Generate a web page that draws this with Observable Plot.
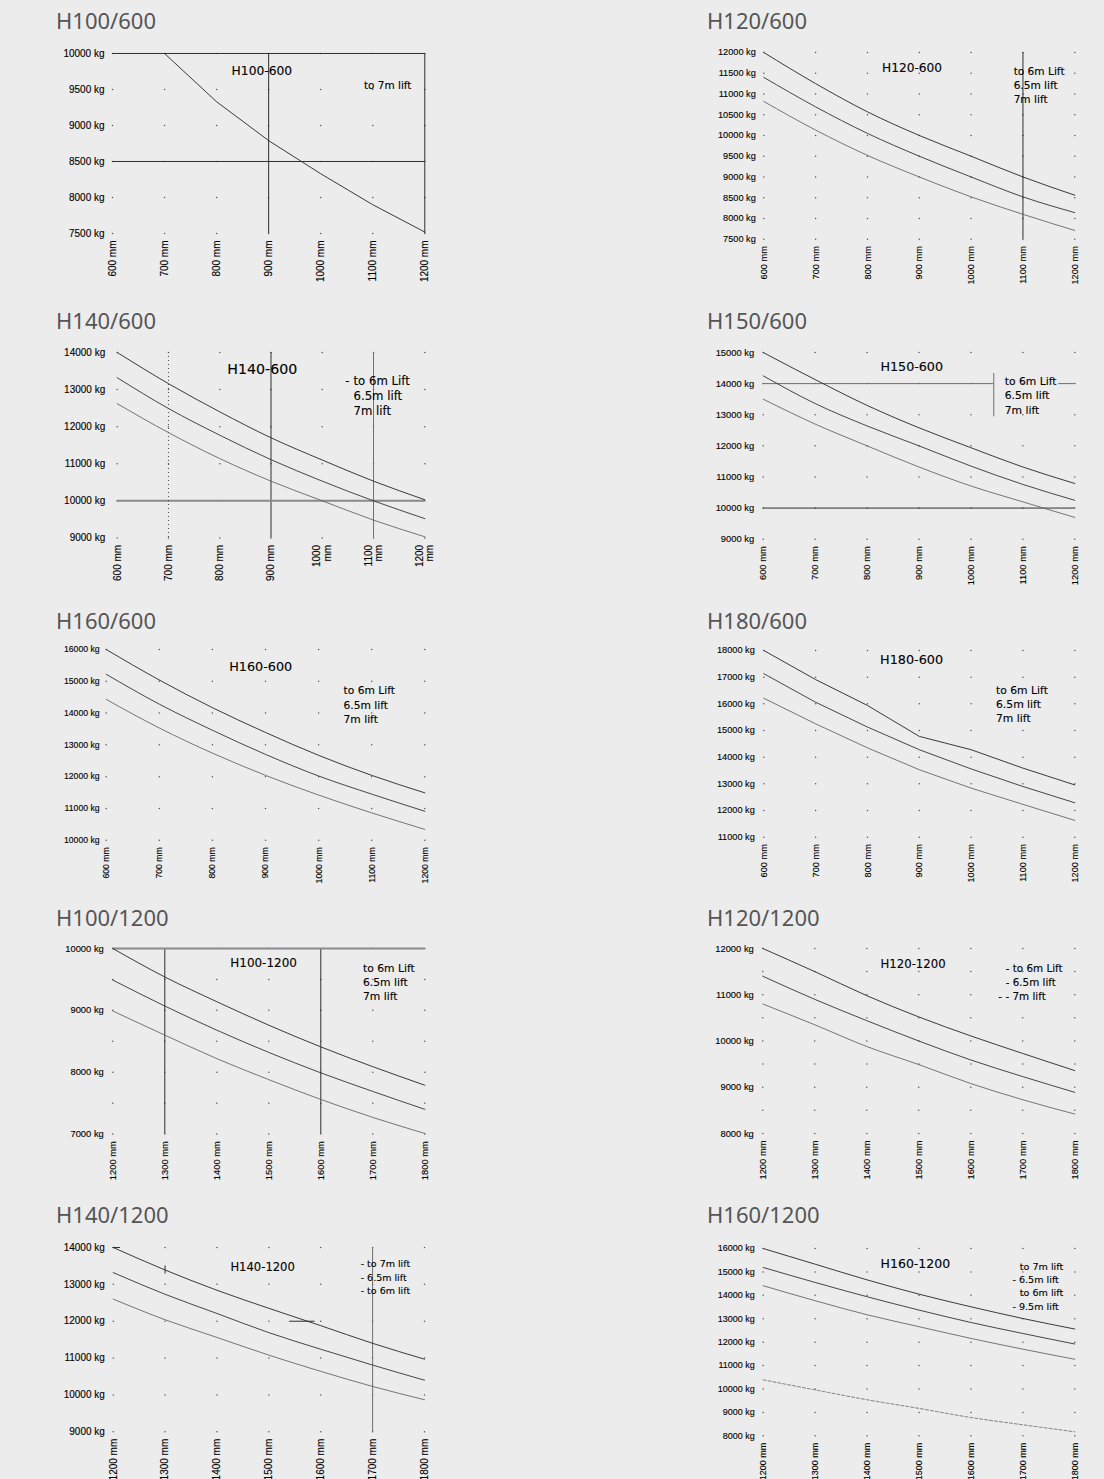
<!DOCTYPE html>
<html><head><meta charset="utf-8">
<script src="https://cdn.jsdelivr.net/npm/d3@7"></script>
<script src="https://cdn.jsdelivr.net/npm/@observablehq/plot@0.6"></script>
<style>
html,body{margin:0;padding:0;background:#ececec;}
#page{position:relative;width:1104px;height:1479px;overflow:hidden;background:#ececec;}
.title{position:absolute;font-family:"Noto Sans",sans-serif;font-size:22px;line-height:22px;color:#555;white-space:nowrap;}
.panel{position:absolute;}
.panel svg{overflow:visible;}
</style></head><body><div id="page"></div>
<script>
// ---- x categories (mm) ----
const mm600 = [600, 700, 800, 900, 1000, 1100, 1200];
const mm1200 = [1200, 1300, 1400, 1500, 1600, 1700, 1800];

// ---- y tick labels (kg) ----
const ticksH100_600 = [7500, 8000, 8500, 9000, 9500, 10000];
const ticksH120_600 = [7500, 8000, 8500, 9000, 9500, 10000, 10500, 11000, 11500, 12000];
const ticksH140_600 = [9000, 10000, 11000, 12000, 13000, 14000];
const ticksH150_600 = [9000, 10000, 11000, 12000, 13000, 14000, 15000];
const ticksH160_600 = [10000, 11000, 12000, 13000, 14000, 15000, 16000];
const ticksH180_600 = [11000, 12000, 13000, 14000, 15000, 16000, 17000, 18000];
const ticksH100_1200 = [7000, 8000, 9000, 10000];
const gridH100_1200 = [7000, 7500, 8000, 8500, 9000, 9500, 10000];
const ticksH120_1200 = [8000, 9000, 10000, 11000, 12000];
const gridH120_1200 = [8000, 8500, 9000, 9500, 10000, 10500, 11000, 11500, 12000];
const ticksH140_1200 = [9000, 10000, 11000, 12000, 13000, 14000];
const ticksH160_1200 = [8000, 9000, 10000, 11000, 12000, 13000, 14000, 15000, 16000];

// ---- series values (kg at each mm category) ----
const h100_600_7m = [null, 10000, 9330, 8790, 8330, 7900, 7520];

const h120_600_6m  = [12000, 11250, 10570, 10000, 9500, 9000, 8560];
const h120_600_65m = [11400, 10690, 10050, 9500, 9000, 8520, 8140];
const h120_600_7m  = [10820, 10130, 9520, 9000, 8520, 8100, 7710];

const h140_600_6m  = [14000, 13160, 12400, 11700, 11100, 10530, 10030];
const h140_600_65m = [13320, 12490, 11770, 11110, 10530, 10000, 9520];
const h140_600_7m  = [12620, 11840, 11140, 10530, 10000, 9480, 9030];

const h150_600_6m  = [15000, 14130, 13300, 12580, 11940, 11320, 10790];
const h150_600_65m = [14250, 13360, 12640, 12000, 11350, 10760, 10250];
const h150_600_7m  = [13500, 12700, 12000, 11320, 10710, 10200, 9700];

const h160_600_6m  = [16000, 15040, 14170, 13390, 12670, 12040, 11490];
const h160_600_65m = [15220, 14280, 13460, 12700, 12020, 11450, 10910];
const h160_600_7m  = [14430, 13530, 12740, 12040, 11420, 10860, 10340];

const h180_600_6m  = [18000, 16910, 15940, 14780, 14280, 13590, 12960];
const h180_600_65m = [17130, 16060, 15130, 14280, 13560, 12900, 12290];
const h180_600_7m  = [16210, 15250, 14350, 13530, 12840, 12230, 11630];

const h100_1200_6m  = [10000, 9540, 9140, 8760, 8410, 8090, 7790];
const h100_1200_65m = [9490, 9070, 8680, 8320, 7990, 7690, 7400];
const h100_1200_7m  = [8990, 8600, 8220, 7880, 7560, 7270, 7010];

const h120_1200_6m  = [12000, 11500, 10980, 10520, 10110, 9730, 9360];
const h120_1200_65m = [11400, 10900, 10440, 10000, 9590, 9230, 8890];
const h120_1200_7m  = [10800, 10350, 9880, 9490, 9080, 8730, 8420];

const h140_1200_a = [14000, 13390, 12840, 12350, 11880, 11400, 10970];
const h140_1200_b = [13320, 12730, 12210, 11690, 11240, 10810, 10400];
const h140_1200_c = [12600, 12040, 11560, 11080, 10640, 10230, 9870];

const h160_1200_a = [16000, 15330, 14660, 14050, 13510, 13010, 12560];
const h160_1200_b = [15190, 14550, 13940, 13370, 12840, 12370, 11920];
const h160_1200_c = [14410, 13770, 13170, 12660, 12160, 11700, 11270];
const h160_1200_95m = [10390, 9960, 9540, 9170, 8780, 8470, 8170];

// ---- chart tags and lift labels (anchored in data units: mm, kg) ----
const tagH100_600 = {text: "H100-600", x: 887, y: 9751};
const notesH100_600 = [{text: "to 7m lift", x: 1083, y: 9560}];
const tagH120_600 = {text: "H120-600", x: 886, y: 11614};
const notesH120_600 = [{text: "to 6m Lift", x: 1082, y: 11549}, {text: "6.5m lift", x: 1082, y: 11212}, {text: "7m lift", x: 1082, y: 10874}];
const tagH140_600 = {text: "H140-600", x: 883, y: 13544};
const notesH140_600 = [{text: "-", x: 1045, y: 13234}, {text: "to 6m Lift", x: 1061, y: 13234}, {text: "6.5m lift", x: 1061, y: 12829}, {text: "7m lift", x: 1061, y: 12424}];
const tagH150_600 = {text: "H150-600", x: 886, y: 14521};
const notesH150_600 = [{text: "to 6m Lift", x: 1065, y: 14078}, {text: "6.5m lift", x: 1065, y: 13606}, {text: "7m lift", x: 1065, y: 13134}];
const tagH160_600 = {text: "H160-600", x: 891, y: 15468};
const notesH160_600 = [{text: "to 6m Lift", x: 1047, y: 14698}, {text: "6.5m lift", x: 1047, y: 14251}, {text: "7m lift", x: 1047, y: 13804}];
const tagH180_600 = {text: "H180-600", x: 885, y: 17651};
const notesH180_600 = [{text: "to 6m Lift", x: 1048, y: 16500}, {text: "6.5m lift", x: 1048, y: 15975}, {text: "7m lift", x: 1048, y: 15450}];
const tagH100_1200 = {text: "H100-1200", x: 1490, y: 9761};
const notesH100_1200 = [{text: "to 6m Lift", x: 1681, y: 9677}, {text: "6.5m lift", x: 1681, y: 9451}, {text: "7m lift", x: 1681, y: 9225}];
const tagH120_1200 = {text: "H120-1200", x: 1489, y: 11662};
const notesH120_1200 = [{text: "- to 6m Lift", x: 1667, y: 11568}, {text: "- 6.5m lift", x: 1667, y: 11265}, {text: "- - 7m lift", x: 1653, y: 10962}];
const tagH140_1200 = {text: "H140-1200", x: 1488, y: 13471};
const notesH140_1200 = [{text: "- to 7m lift", x: 1677, y: 13550}, {text: "- 6.5m lift", x: 1677, y: 13186}, {text: "- to 6m lift", x: 1677, y: 12825}];
const tagH160_1200 = {text: "H160-1200", x: 1493, y: 15334};
const notesH160_1200 = [{text: "to 7m lift", x: 1694, y: 15231}, {text: "- 6.5m lift", x: 1680, y: 14663}, {text: "to 6m lift", x: 1694, y: 14095}, {text: "- 9.5m lift", x: 1680, y: 13510}];

// ---- reference lines drawn on the charts ----
const hRulesH100_600 = [{y: 10000, x1: 600, x2: 1200, kind: "line"}, {y: 8500, x1: 600, x2: 1200, kind: "line"}];
const vRulesH100_600 = [{x: 900, y1: 10000, y2: 7500, kind: "line"}, {x: 1200, y1: 10000, y2: 7500, kind: "line"}];
const vRulesH120_600 = [{x: 1100, y1: 12000, y2: 7500, kind: "line"}];
const hRulesH140_600 = [{y: 10000, x1: 600, x2: 1200, kind: "heavy"}];
const vRulesH140_600 = [{x: 900, y1: 14000, y2: 9000, kind: "line"}, {x: 1100, y1: 14000, y2: 9000, kind: "gray"}, {x: 700, y1: 14000, y2: 9000, kind: "dots"}];
const hRulesH150_600 = [{y: 14000, x1: 600, x2: 1044, kind: "gray"}, {y: 14000, x1: 1169, x2: 1200, kind: "gray"}, {y: 10000, x1: 600, x2: 1200, kind: "line"}];
const vRulesH150_600 = [{x: 1044, y1: 14325, y2: 12932, kind: "gray"}];
const hRulesH100_1200 = [{y: 10000, x1: 1200, x2: 1800, kind: "heavy"}];
const vRulesH100_1200 = [{x: 1300, y1: 10000, y2: 7000, kind: "line"}, {x: 1600, y1: 10000, y2: 7000, kind: "line"}];
const hRulesH140_1200 = [{y: 12000, x1: 1540, x2: 1589, kind: "line"}, {y: 14000, x1: 1200, x2: 1214, kind: "line"}];
const vRulesH140_1200 = [{x: 1700, y1: 14000, y2: 9000, kind: "gray"}, {x: 1300, y1: 13500, y2: 13280, kind: "line"}];

// ---- panel table (built from the arrays above, plus layout) ----
const panels = [
  {title: "H100/600", xs: mm600, yTicks: ticksH100_600, yGrid: ticksH100_600, series: [h100_600_7m], tag: tagH100_600, notes: notesH100_600, hRules: hRulesH100_600, vRules: vRulesH100_600,
   L: {col: 0, row: 0, x0: 112, x1: 424.3, y0: 53.3, y1: 233.3, fs: 10, pad: 8, tagFs: 12.3, noteFs: 10.5, curve: "linear"}},
  {title: "H120/600", xs: mm600, yTicks: ticksH120_600, yGrid: ticksH120_600, series: [h120_600_6m, h120_600_65m, h120_600_7m], tag: tagH120_600, notes: notesH120_600, hRules: [], vRules: vRulesH120_600,
   L: {col: 1, row: 0, x0: 763.3, x1: 1074.3, y0: 52.3, y1: 239, fs: 9.2, pad: 8, tagFs: 12.2, noteFs: 10.6}},
  {title: "H140/600", xs: mm600, yTicks: ticksH140_600, yGrid: ticksH140_600, series: [h140_600_6m, h140_600_65m, h140_600_7m], tag: tagH140_600, notes: notesH140_600, hRules: hRulesH140_600, vRules: vRulesH140_600,
   L: {col: 0, row: 1, x0: 116.7, x1: 424.3, y0: 352.3, y1: 537.7, fs: 10, pad: 12, tagFs: 14.2, noteFs: 11.7, split: true}},
  {title: "H150/600", xs: mm600, yTicks: ticksH150_600, yGrid: ticksH150_600, series: [h150_600_6m, h150_600_65m, h150_600_7m], tag: tagH150_600, notes: notesH150_600, hRules: hRulesH150_600, vRules: vRulesH150_600,
   L: {col: 1, row: 1, x0: 762.7, x1: 1074.3, y0: 352.3, y1: 539, fs: 9.4, pad: 9, tagFs: 12.7, noteFs: 10.8}},
  {title: "H160/600", xs: mm600, yTicks: ticksH160_600, yGrid: ticksH160_600, series: [h160_600_6m, h160_600_65m, h160_600_7m], tag: tagH160_600, notes: notesH160_600, hRules: [], vRules: [],
   L: {col: 0, row: 2, x0: 105.7, x1: 424.3, y0: 649.3, y1: 840, fs: 8.7, pad: 6.5, tagFs: 12.8, noteFs: 10.7}},
  {title: "H180/600", xs: mm600, yTicks: ticksH180_600, yGrid: ticksH180_600, series: [h180_600_6m, h180_600_65m, h180_600_7m], tag: tagH180_600, notes: notesH180_600, hRules: [], vRules: [],
   L: {col: 1, row: 2, x0: 763.3, x1: 1074.3, y0: 650, y1: 836.7, fs: 9.2, pad: 9, tagFs: 12.8, noteFs: 10.8, curve: "linear"}},
  {title: "H100/1200", xs: mm1200, yTicks: ticksH100_1200, yGrid: gridH100_1200, series: [h100_1200_6m, h100_1200_65m, h100_1200_7m], tag: tagH100_1200, notes: notesH100_1200, hRules: hRulesH100_1200, vRules: vRulesH100_1200,
   L: {col: 0, row: 3, x0: 112.3, x1: 424.3, y0: 947.7, y1: 1133.3, fs: 9.4, pad: 9, tagFs: 12, noteFs: 10.8}},
  {title: "H120/1200", xs: mm1200, yTicks: ticksH120_1200, yGrid: gridH120_1200, series: [h120_1200_6m, h120_1200_65m, h120_1200_7m], tag: tagH120_1200, notes: notesH120_1200, hRules: [], vRules: [],
   L: {col: 1, row: 3, x0: 762.3, x1: 1074.3, y0: 947.7, y1: 1132.7, fs: 9.4, pad: 9, tagFs: 11.7, noteFs: 10.4}},
  {title: "H140/1200", xs: mm1200, yTicks: ticksH140_1200, yGrid: ticksH140_1200, series: [h140_1200_a, h140_1200_b, h140_1200_c], tag: tagH140_1200, notes: notesH140_1200, hRules: hRulesH140_1200, vRules: vRulesH140_1200,
   L: {col: 0, row: 4, x0: 112.7, x1: 424, y0: 1246.7, y1: 1431, fs: 10, pad: 8.4, tagFs: 11.6, noteFs: 9.5}},
  {title: "H160/1200", xs: mm1200, yTicks: ticksH160_1200, yGrid: ticksH160_1200, series: [h160_1200_a, h160_1200_b, h160_1200_c, h160_1200_95m], tag: tagH160_1200, notes: notesH160_1200, hRules: [], vRules: [],
   L: {col: 1, row: 4, x0: 762.7, x1: 1074.3, y0: 1247.7, y1: 1435, fs: 9, pad: 8.4, tagFs: 12.5, noteFs: 9.6}}
];

const titleTops = [9, 309, 609, 906, 1203];
const colLeft = [50, 700];
const titleLeft = [56, 707];

const seriesStyle = [
  {stroke: "#262626", strokeWidth: 0.9},
  {stroke: "#333333", strokeWidth: 0.9},
  {stroke: "#5e5e5e", strokeWidth: 0.85},
  {stroke: "#6a6a6a", strokeWidth: 0.85, strokeDasharray: "3,2"}
];
const ruleStyle = {
  line: {stroke: "#2e2e2e", strokeWidth: 1},
  heavy: {stroke: "#8a8a8a", strokeWidth: 2},
  gray: {stroke: "#6e6e6e", strokeWidth: 1},
  dots: {stroke: "#444", strokeWidth: 1, strokeDasharray: "1,3"}
};
const textInk = {fill: "#000", stroke: "#000", strokeWidth: 0.25, strokeOpacity: 0.55};
const axisInk = {fill: "#000", textStroke: "#000", textStrokeWidth: 0.25, textStrokeOpacity: 0.5};

const page = document.getElementById("page");

for (const p of panels) {
  const L = p.L;
  const t = document.createElement("div");
  t.className = "title";
  t.textContent = p.title;
  t.style.left = titleLeft[L.col] + "px";
  t.style.top = titleTops[L.row] + "px";
  page.appendChild(t);

  const left = colLeft[L.col];
  const mt = 10, mb = 56, mr = 14;
  const ml = L.x0 - left;
  const width = L.x1 - left + mr;
  const height = (L.y1 - L.y0) + mt + mb;
  const grid = d3.cross(p.xs, p.yGrid).map(([x, y]) => ({x, y}));

  const marks = [
    Plot.dot(grid, {x: "x", y: "y", r: 0.75, fill: "#555", stroke: null})
  ];
  for (const kind of Object.keys(ruleStyle)) {
    const h = p.hRules.filter(d => d.kind === kind);
    const v = p.vRules.filter(d => d.kind === kind);
    if (h.length) marks.push(Plot.ruleY(h, {y: "y", x1: "x1", x2: "x2", ...ruleStyle[kind]}));
    if (v.length) marks.push(Plot.ruleX(v, {x: "x", y1: "y1", y2: "y2", ...ruleStyle[kind]}));
  }
  p.series.forEach((vals, i) => {
    const pts = p.xs.map((x, j) => ({x, y: vals[j]}));
    marks.push(Plot.line(pts, {x: "x", y: "y", curve: L.curve || "monotone-x", ...seriesStyle[i]}));
  });
  const xFmt = L.split ? (d => d >= 1000 ? d + "\nmm" : d + " mm") : (d => d + " mm");
  marks.push(
    Plot.axisY({ticks: p.yTicks, tickSize: 0, tickPadding: L.pad, tickFormat: d => d + " kg", fontSize: L.fs, label: null, ...axisInk}),
    Plot.axisX({ticks: p.xs, tickSize: 0, tickPadding: 7, tickRotate: -90, tickFormat: xFmt, fontSize: L.fs, label: null, lineHeight: 1.05, ...axisInk}),
    Plot.text([p.tag], {x: "x", y: "y", text: "text", fontSize: L.tagFs, fontFamily: "DejaVu Sans", textAnchor: "middle", ...textInk}),
    Plot.text(p.notes, {x: "x", y: "y", text: "text", fontSize: L.noteFs, fontFamily: "DejaVu Sans", textAnchor: "start", ...textInk})
  );

  const svg = Plot.plot({
    width, height,
    marginLeft: ml, marginRight: mr, marginTop: mt, marginBottom: mb,
    x: {domain: [p.xs[0], p.xs[p.xs.length - 1]]},
    y: {domain: [d3.min(p.yTicks), d3.max(p.yTicks)]},
    style: {background: "transparent", fontFamily: "'Liberation Sans', Arial, Helvetica, sans-serif", color: "#111", overflow: "visible"},
    marks
  });
  const wrap = document.createElement("div");
  wrap.className = "panel";
  wrap.style.left = left + "px";
  wrap.style.top = (L.y0 - mt) + "px";
  wrap.appendChild(svg);
  page.appendChild(wrap);
}
</script></body></html>
